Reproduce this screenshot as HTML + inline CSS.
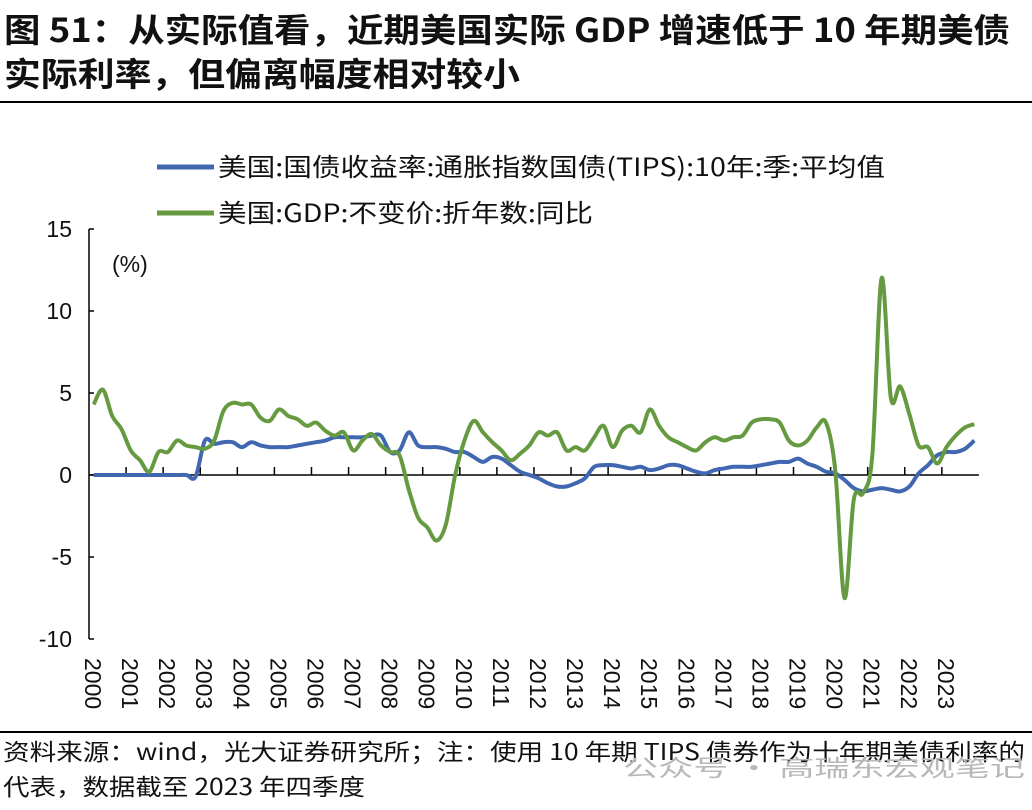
<!DOCTYPE html>
<html><head><meta charset="utf-8">
<style>
body{margin:0;background:#fff;width:1032px;height:805px;overflow:hidden;font-family:"Liberation Sans","Noto Sans CJK SC",sans-serif;}
svg text{font-family:"Liberation Sans","Noto Sans CJK SC",sans-serif;}
svg text.cj{font-family:"Noto Sans CJK SC","Liberation Sans",sans-serif;}
</style></head>
<body>
<svg width="1032" height="805" viewBox="0 0 1032 805">
<text class="cj" x="4" y="42" font-size="33" font-weight="bold" fill="#111" textLength="1006" lengthAdjust="spacingAndGlyphs">图 51：从实际值看，近期美国实际 GDP 增速低于 10 年期美债</text>
<text class="cj" x="4" y="86" font-size="33" font-weight="bold" fill="#111" textLength="516" lengthAdjust="spacingAndGlyphs">实际利率，但偏离幅度相对较小</text>
<rect x="0" y="101" width="1032" height="2" fill="#000"/>
<g>
<line x1="157" y1="167" x2="214" y2="167" stroke="#4067b0" stroke-width="5"/>
<text class="cj" x="218" y="176" font-size="25" fill="#111" textLength="667" lengthAdjust="spacingAndGlyphs">美国:国债收益率:通胀指数国债(TIPS):10年:季:平均值</text>
<line x1="157" y1="213" x2="214" y2="213" stroke="#659a41" stroke-width="5"/>
<text class="cj" x="218" y="222" font-size="25" fill="#111" textLength="375" lengthAdjust="spacingAndGlyphs">美国:GDP:不变价:折年数:同比</text>
</g>
<text x="112" y="272" font-size="23" fill="#111">(%)</text>
<g id="axes"></g>
<g id="series"></g>
<rect x="0" y="731" width="1032" height="2" fill="#000"/>
<text class="cj" x="3" y="760" font-size="23" fill="#111" textLength="1022" lengthAdjust="spacingAndGlyphs">资料来源：wind，光大证券研究所；注：使用 10 年期 TIPS 债券作为十年期美债利率的</text>
<text class="cj" x="3" y="795" font-size="23" fill="#111" textLength="362" lengthAdjust="spacingAndGlyphs">代表，数据截至 2023 年四季度</text>
<text class="cj" x="623" y="776" font-size="23" fill="#b8b8b8" textLength="402" lengthAdjust="spacingAndGlyphs">公众号 · 高瑞东宏观笔记</text>
</svg>
<script>
const years=["2000","2001","2002","2003","2004","2005","2006","2007","2008","2009","2010","2011","2012","2013","2014","2015","2016","2017","2018","2019","2020","2021","2022","2023"];
const yTicks=[15,10,5,0,-5,-10];
const tipsValues=[0,0,0,0, 0,0,0,0, 0,0,0,-0.1, 2.1,1.9,2.0,2.0, 1.7,2.0,1.8,1.7, 1.7,1.7,1.8,1.9, 2.0,2.1,2.3,2.3, 2.3,2.3,2.4,2.4, 1.4,1.5,2.6,1.8, 1.7,1.7,1.6,1.4, 1.4,1.1,0.8,1.1, 1.0,0.6,0.2,0.0, -0.2,-0.5,-0.7,-0.7, -0.5,-0.2,0.5,0.6, 0.6,0.5,0.4,0.5, 0.3,0.4,0.6,0.6, 0.4,0.2,0.1,0.3, 0.4,0.5,0.5,0.5, 0.6,0.7,0.8,0.8, 1.0,0.7,0.5,0.2, 0.1,-0.3,-0.8,-1.0, -0.9,-0.8,-0.9,-1.0, -0.7,0.1,0.6,1.2, 1.4,1.4,1.6,2.1];
const gdpValues=[4.3,5.2,3.6,2.8, 1.5,0.9,0.2,1.4, 1.4,2.1,1.8,1.7, 1.6,2.1,3.9,4.4, 4.3,4.3,3.5,3.3, 4.0,3.6,3.4,3.0, 3.2,2.7,2.4,2.6, 1.5,2.1,2.5,1.8, 1.4,1.2,-0.9,-2.6, -3.2,-4.0,-3.0,0.0, 2.1,3.3,2.6,2.0, 1.5,0.9,1.3,1.8, 2.6,2.4,2.6,1.5, 1.7,1.5,2.3,3.0, 1.7,2.7,3.0,2.6, 4.0,3.0,2.3,2.0, 1.7,1.5,2.0,2.3, 2.1,2.3,2.4,3.2, 3.4,3.4,3.2,2.1, 1.8,2.1,2.9,3.2, 0.3,-7.5,-1.5,-1.1, 1.2,12.0,4.7,5.4, 3.7,1.8,1.7,0.7, 1.7,2.4,2.9,3.1];
const X0=89, YW=37.08, Y0=475, PU=16.4;
function xq(i){return X0+(i+0.5)*YW/4;}
function yv(v){return Y0-v*PU;}
const NS="http://www.w3.org/2000/svg";
const axes=document.getElementById('axes'), series=document.getElementById('series');
function mk(tag,attrs,parent){const e=document.createElementNS(NS,tag);for(const k in attrs)e.setAttribute(k,attrs[k]);parent.appendChild(e);return e;}
const ya=mk('line',{x1:X0,y1:yv(15),x2:X0,y2:yv(-10),stroke:'#000','stroke-width':1.5},axes);


yTicks.forEach(v=>{
 const t=mk('line',{x1:X0,y1:yv(v),x2:X0+5,y2:yv(v),stroke:'#000','stroke-width':1.5},axes);
 
 
 const l=mk('text',{x:72,y:yv(v)+8,'font-size':23,'text-anchor':'end',fill:'#111'},axes);
 l.textContent=v;
 
 
});
const xa=mk('line',{x1:X0,y1:Y0,x2:X0+years.length*YW,y2:Y0,stroke:'#000','stroke-width':1.5},axes);


years.forEach((y,i)=>{
 if(i>0){const t=mk('line',{x1:X0+i*YW,y1:Y0,x2:X0+i*YW,y2:Y0-8,stroke:'#000','stroke-width':1.5},axes);
 
 }
 const cx=X0+i*YW+4;
 const l=mk('text',{x:0,y:0,'font-size':23,fill:'#111',transform:`translate(${cx-8},658) rotate(90)`},axes);
 l.textContent=y;
 
 
});
function smooth(vals){
 const p=vals.map((v,i)=>[xq(i),yv(v)]);
 let d=`M${p[0][0]},${p[0][1]}`;
 for(let i=0;i<p.length-1;i++){
  const a=p[Math.max(0,i-1)],b=p[i],c=p[i+1],e=p[Math.min(p.length-1,i+2)];
  const c1=[b[0]+(c[0]-a[0])/6,b[1]+(c[1]-a[1])/6],c2=[c[0]-(e[0]-b[0])/6,c[1]-(e[1]-b[1])/6];
  d+=` C${c1[0]},${c1[1]} ${c2[0]},${c2[1]} ${c[0]},${c[1]}`;
 }
 return d;
}
const tl=mk('path',{d:smooth(tipsValues),fill:'none',stroke:'#4067b0','stroke-width':4,'stroke-linejoin':'round'},series);


const gl=mk('path',{d:smooth(gdpValues),fill:'none',stroke:'#659a41','stroke-width':4,'stroke-linejoin':'round'},series);


</script>
</body></html>
